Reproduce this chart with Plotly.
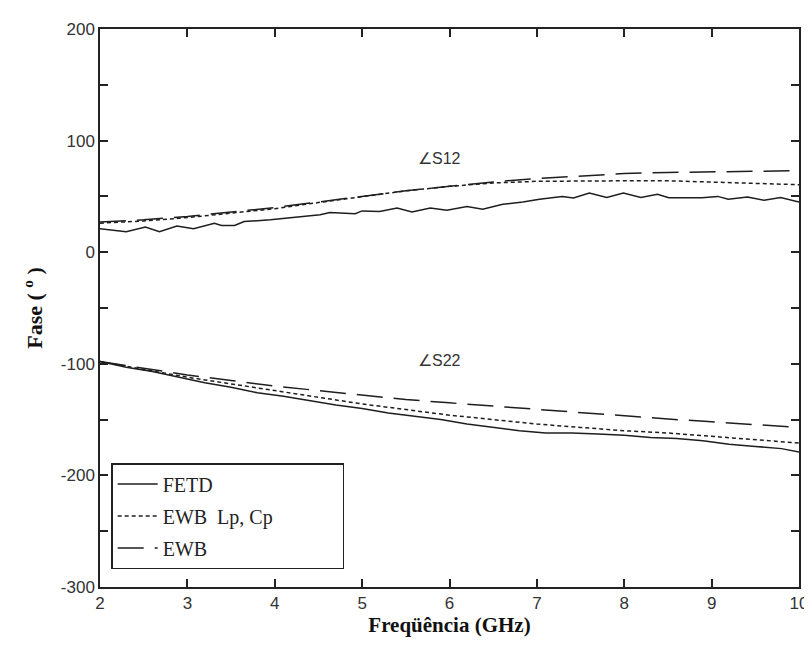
import plotly.graph_objects as go

# ---- data ----
freq_fetd_s12 = [2.0, 2.3, 2.52, 2.68, 2.88, 3.07, 3.31, 3.39, 3.54, 3.65, 3.95, 4.18, 4.52, 4.63,
                 4.92, 5.0, 5.2, 5.4, 5.57, 5.78, 5.97, 6.2, 6.38, 6.61, 6.84, 7.03, 7.29, 7.42,
                 7.6, 7.8, 7.99, 8.19, 8.38, 8.51, 8.89, 9.07, 9.19, 9.41, 9.6, 9.79, 10.0]
fetd_s12 = [21, 18.4, 22.5, 18.4, 23.5, 21, 26, 24, 24, 27.5, 29, 31, 33.6, 35.5,
            34.5, 37, 36.5, 39.5, 36, 39.5, 37.6, 41, 38.4, 43, 45, 47.5, 50, 48.5,
            53, 49, 53, 49, 52, 48.8, 48.8, 50, 47.5, 49.5, 46.5, 49, 45]

freq = [2.0, 2.5, 3.0, 3.5, 4.0, 4.5, 5.0, 5.5, 6.0, 6.5, 7.0, 7.5, 8.0, 8.5, 9.0, 9.5, 10.0]
ewblc_s12 = [26, 28, 31, 35, 39, 44.5, 50, 55, 59, 62, 63.5, 64, 64, 64, 63, 61.5, 60.5]
ewb_s12 = [27, 29, 32, 36, 40, 45, 50, 55, 59, 63, 66, 68.5, 70.5, 71.5, 72, 72.5, 73]

freq_fetd_s22 = [2.0, 2.3, 2.6, 2.9, 3.2, 3.5, 3.8, 4.1, 4.4, 4.7, 5.0, 5.3, 5.6, 5.9, 6.2,
                 6.5, 6.8, 7.1, 7.4, 7.7, 8.0, 8.3, 8.6, 8.9, 9.2, 9.5, 9.8, 10.0]
fetd_s22 = [-98, -103, -107, -112, -117, -121, -126, -129, -133, -137, -140, -144, -147, -150, -154,
            -157, -160, -162, -162, -163, -164, -166, -167, -169, -172, -174, -176, -179]
ewblc_s22 = [-98, -105, -112, -118, -124, -130, -136, -141, -146, -150, -154, -157, -160, -162, -165, -168, -171]
ewb_s22 = [-98, -104, -110, -115, -120, -124, -128, -132, -135, -138, -141, -144, -147, -149.5, -152, -154.5, -157]

labels = ["FETD", "EWB  Lp, Cp", "EWB"]
x_ticks = [2, 3, 4, 5, 6, 7, 8, 9, 10]
y_ticks = [-300, -200, -100, 0, 100, 200]
y_ticktext = ["-300", "-200", "-100", "0", "100", "200"]

col = "#1e1e1e"
lw = 1.5
dot = "4px,3px"
dash = "26px,11px"
pad = "\u00a0" * 13

fig = go.Figure()
fig.add_trace(go.Scatter(x=freq_fetd_s12, y=fetd_s12, mode="lines", name=labels[0],
                         line=dict(color=col, width=lw), legendgroup="a"))
fig.add_trace(go.Scatter(x=freq, y=ewblc_s12, mode="lines", name=labels[1].replace(" ", "\u00a0") + pad,
                         line=dict(color=col, width=lw, dash=dot), legendgroup="b"))
fig.add_trace(go.Scatter(x=freq, y=ewb_s12, mode="lines", name=labels[2],
                         line=dict(color=col, width=lw, dash=dash), legendgroup="c"))
fig.add_trace(go.Scatter(x=freq_fetd_s22, y=fetd_s22, mode="lines", showlegend=False,
                         line=dict(color=col, width=lw), legendgroup="a"))
fig.add_trace(go.Scatter(x=freq, y=ewblc_s22, mode="lines", showlegend=False,
                         line=dict(color=col, width=lw, dash=dot), legendgroup="b"))
fig.add_trace(go.Scatter(x=freq, y=ewb_s22, mode="lines", showlegend=False,
                         line=dict(color=col, width=lw, dash=dash), legendgroup="c"))

fig.add_annotation(x=5.88, y=84, text="∠S12", showarrow=False,
                   font=dict(family="Liberation Sans, Arial", size=16, color="#333"))
fig.add_annotation(x=5.88, y=-97, text="∠S22", showarrow=False,
                   font=dict(family="Liberation Sans, Arial", size=16, color="#333"))

axis_common = dict(showline=True, linecolor="#222", linewidth=1.5, mirror="ticks",
                   ticks="inside", ticklen=8, tickwidth=1.5, tickcolor="#222",
                   showgrid=False, zeroline=False,
                   tickfont=dict(family="Liberation Sans, Arial", size=17, color="#333"))

fig.update_layout(
    width=812, height=645,
    paper_bgcolor="white", plot_bgcolor="white",
    margin=dict(l=92, r=12, t=20, b=66),
    xaxis=dict(range=[2, 10], tickvals=x_ticks,
               title=dict(text="<b>Freqüência (GHz)</b>", standoff=4,
                          font=dict(family="Liberation Serif, Times New Roman", size=21, color="#111")),
               **axis_common),
    yaxis=dict(range=[-300, 200], tickvals=y_ticks, ticktext=y_ticktext,
               minor=dict(dtick=50, tick0=-300, ticks="inside", ticklen=8, tickwidth=1.5,
                          tickcolor="#222", showgrid=False),
               title=dict(text="<b>Fase ( <sup>o</sup> )</b>", standoff=12,
                          font=dict(family="Liberation Serif, Times New Roman", size=22, color="#111")),
               **axis_common),
    legend=dict(x=0.016, y=0.222, xanchor="left", yanchor="top",
                bordercolor="#222", borderwidth=1.5, bgcolor="white",
                font=dict(family="Liberation Serif, Times New Roman", size=20, color="#222"),
                tracegroupgap=3, itemwidth=40),
    showlegend=True,
)

fig.write_html("out.html")
